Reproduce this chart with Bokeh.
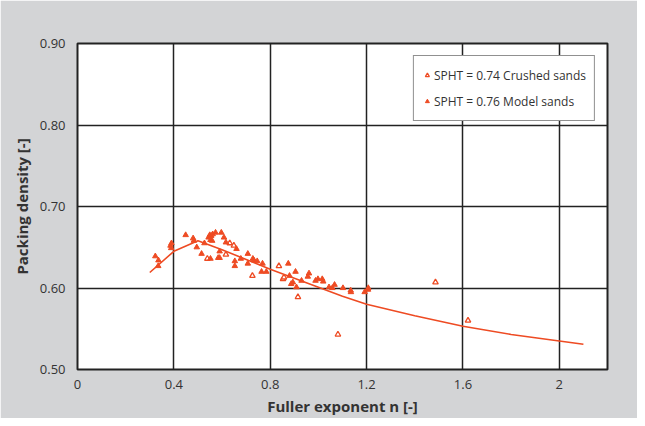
from bokeh.plotting import figure
from bokeh.models import FixedTicker, Legend, LegendItem
from bokeh.embed import file_html
from bokeh.resources import INLINE

# Model curve
curve_x = [0.3, 0.4, 0.5, 0.6, 0.7, 0.8, 0.9, 1.0, 1.1, 1.2, 1.4, 1.6, 1.8, 2.0, 2.1]
curve_y = [0.619, 0.645, 0.658, 0.647, 0.635, 0.623, 0.612, 0.601, 0.590, 0.580,
           0.566, 0.553, 0.543, 0.535, 0.531]

# SPHT = 0.76 Model sands (filled)
model_x = [0.323, 0.336, 0.335, 0.386, 0.389, 0.390, 0.449, 0.480, 0.483, 0.495,
           0.515, 0.527, 0.552, 0.544, 0.549, 0.555, 0.561, 0.573, 0.552, 0.559,
           0.584, 0.590, 0.590, 0.597, 0.608, 0.616, 0.660, 0.653, 0.653, 0.678,
           0.707, 0.707, 0.728, 0.732, 0.746, 0.768, 0.764, 0.784, 0.875, 0.880,
           0.887, 0.894, 0.905, 0.909, 0.930, 0.956, 0.961, 0.988, 0.998, 1.016,
           1.020, 1.044, 1.058, 1.067, 1.102, 1.134, 1.135, 1.192, 1.206, 1.207]
model_y = [0.639, 0.634, 0.627, 0.652, 0.649, 0.655, 0.665, 0.661, 0.658, 0.650,
           0.642, 0.655, 0.636, 0.662, 0.665, 0.664, 0.666, 0.668, 0.659, 0.658,
           0.637, 0.637, 0.645, 0.668, 0.662, 0.656, 0.648, 0.633, 0.627, 0.636,
           0.642, 0.630, 0.636, 0.634, 0.633, 0.630, 0.620, 0.620, 0.630, 0.615,
           0.605, 0.607, 0.620, 0.601, 0.609, 0.614, 0.618, 0.609, 0.611, 0.611,
           0.608, 0.601, 0.600, 0.604, 0.600, 0.597, 0.595, 0.595, 0.598, 0.600]

# SPHT = 0.74 Crushed sands (open)
crushed_x = [0.539, 0.616, 0.632, 0.649, 0.726, 0.836, 0.853, 0.857, 0.915, 1.081, 1.486, 1.621]
crushed_y = [0.636, 0.641, 0.655, 0.652, 0.615, 0.627, 0.611, 0.613, 0.589, 0.543, 0.607, 0.560]

x_ticks = [0, 0.4, 0.8, 1.2, 1.6, 2.0]
x_labels = ["0", "0.4", "0.8", "1.2", "1.6", "2"]
y_ticks = [0.5, 0.6, 0.7, 0.8, 0.9]
y_labels = ["0.50", "0.60", "0.70", "0.80", "0.90"]

RED = "#ee4b23"
FONT = "Open Sans"
BG = "#d3d4d6"

p = figure(width=637, height=418, x_range=(0, 2.2), y_range=(0.5, 0.9),
           output_backend="svg", toolbar_location=None,
           min_border_left=77, min_border_right=30, min_border_top=43, min_border_bottom=47)
p.background_fill_color = "white"
p.border_fill_color = BG
p.outline_line_color = "#222222"
p.outline_line_width = 2

p.line(curve_x, curve_y, line_color=RED, line_width=1.6)
r_open = p.scatter(crushed_x, crushed_y, marker="triangle", size=5.5,
                   fill_color="white", line_color=RED, line_width=1.3)
r_fill = p.scatter(model_x, model_y, marker="triangle", size=5.5,
                   fill_color=RED, line_color=RED, line_width=1)

for ax, ticks, labels in ((p.xaxis[0], x_ticks, x_labels), (p.yaxis[0], y_ticks, y_labels)):
    ax.ticker = FixedTicker(ticks=ticks)
    ax.major_label_overrides = {t: l for t, l in zip(ticks, labels)}
    ax.axis_line_color = None
    ax.major_tick_line_color = None
    ax.minor_tick_line_color = None
    ax.major_label_text_font = FONT
    ax.major_label_text_font_size = "13px"
    ax.major_label_text_color = "#333333"
    ax.axis_label_text_font = FONT
    ax.axis_label_text_font_size = "15px"
    ax.axis_label_text_font_style = "bold"
    ax.axis_label_text_color = "#333333"

p.xaxis.axis_label = "Fuller exponent n [-]"
p.yaxis.axis_label = "Packing density [-]"
p.xaxis.major_label_standoff = 4
p.yaxis.major_label_standoff = 6
p.xaxis.axis_label_standoff = 4
p.yaxis.axis_label_standoff = 5

p.xgrid.ticker = FixedTicker(ticks=[0.4, 0.8, 1.2, 1.6, 2.0])
p.ygrid.ticker = FixedTicker(ticks=[0.6, 0.7, 0.8])
for g in (p.xgrid[0], p.ygrid[0]):
    g.grid_line_color = "#222222"
    g.grid_line_width = 1.5

legend = Legend(items=[
    LegendItem(label="SPHT = 0.74 Crushed sands", renderers=[r_open]),
    LegendItem(label="SPHT = 0.76 Model sands", renderers=[r_fill]),
], location="top_right")
legend.margin = 12
legend.padding = 8
legend.spacing = 4
legend.glyph_width = 10
legend.glyph_height = 22
legend.label_standoff = 2
legend.label_text_font = FONT
legend.label_text_font_size = "12px"
legend.label_text_color = "#333333"
legend.border_line_color = "#222222"
legend.border_line_width = 1
legend.background_fill_color = "white"
legend.background_fill_alpha = 1
p.add_layout(legend)

open("out.html", "w").write(file_html(p, INLINE))
